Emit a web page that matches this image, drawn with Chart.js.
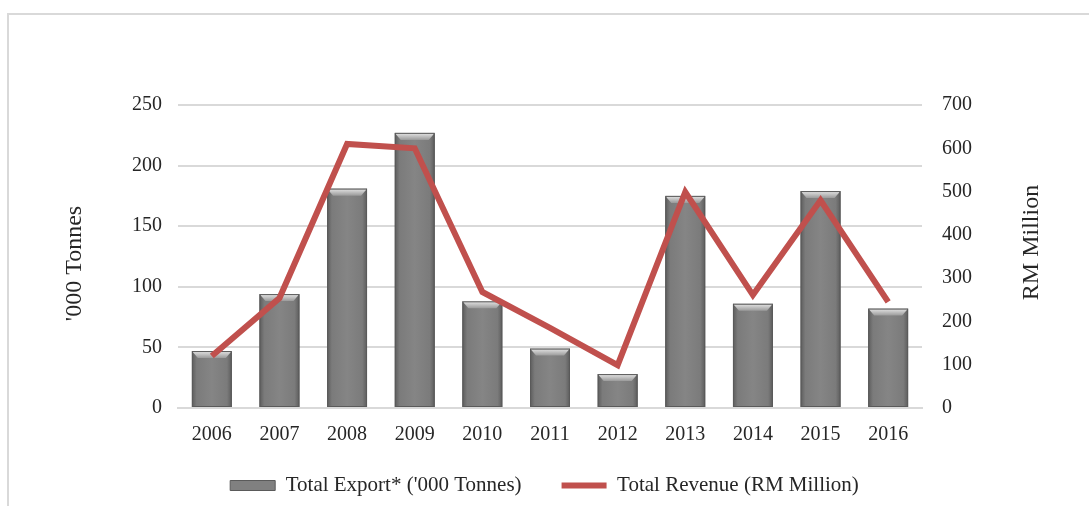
<!DOCTYPE html>
<html lang="en">
<head>
    <meta charset="UTF-8">
    <title>Export and Revenue</title>
    <script src="https://cdn.jsdelivr.net/npm/chart.js"></script>
    <style>
        body { margin: 0; background: #fff; overflow: hidden; }
        #frame {
            position: absolute; left: 7px; top: 13px;
            width: 1200px; height: 600px;
            border: 2px solid #d9d9d9;
        }
        #myChart { position: absolute; left: 0; top: 0; }
    </style>
</head>
<body>
    <div id="frame"></div>
    <canvas id="myChart" width="1089" height="506"></canvas>

    <script>
        const years = ['2006', '2007', '2008', '2009', '2010', '2011', '2012', '2013', '2014', '2015', '2016'];
        const exportTonnes = [47, 94, 181, 227, 88, 49, 28, 175, 86, 179, 82];   // '000 tonnes
        const revenueRM = [120, 254, 610, 600, 268, 185, 99, 499, 261, 480, 245]; // RM million

        const leftTicks = { min: 0, max: 250, step: 50 };
        const rightTicks = { min: 0, max: 700, step: 100 };

        const serif = "'Liberation Serif', 'Times New Roman', serif";
        const textColor = '#262626';
        const gridColor = '#d9d9d9';
        const red = '#c0504d';

        // shaded bars with a bevelled top edge
        const bevelBars = {
            id: 'bevelBars',
            afterDatasetDraw(chart, args) {
                if (args.meta.type !== 'bar') return;
                const ctx = chart.ctx;
                ctx.save();
                args.meta.data.forEach(bar => {
                    const left = bar.x - bar.width / 2;
                    const right = bar.x + bar.width / 2;
                    const top = bar.y;
                    const bottom = bar.base;

                    const g = ctx.createLinearGradient(left, 0, right, 0);
                    g.addColorStop(0, '#5c5c5c');
                    g.addColorStop(0.12, '#7b7b7b');
                    g.addColorStop(0.5, '#858585');
                    g.addColorStop(0.88, '#7b7b7b');
                    g.addColorStop(1, '#5c5c5c');
                    ctx.fillStyle = g;
                    ctx.fillRect(left, top, right - left, bottom - top);

                    const b = Math.min(7, (bottom - top) / 2);
                    const tg = ctx.createLinearGradient(0, top, 0, top + b);
                    tg.addColorStop(0, '#e6e6e6');
                    tg.addColorStop(1, '#9a9a9a');
                    ctx.fillStyle = tg;
                    ctx.beginPath();
                    ctx.moveTo(left, top);
                    ctx.lineTo(right, top);
                    ctx.lineTo(right - 6, top + b);
                    ctx.lineTo(left + 6, top + b);
                    ctx.closePath();
                    ctx.fill();

                    ctx.strokeStyle = '#5a5a5a';
                    ctx.lineWidth = 1;
                    ctx.strokeRect(left + 0.5, top + 0.5, right - left - 1, bottom - top - 1);
                });
                ctx.restore();
            }
        };

        // both axis titles read bottom-to-top
        const axisTitles = {
            id: 'axisTitles',
            afterDraw(chart) {
                const ctx = chart.ctx;
                const area = chart.chartArea;
                const midY = (area.top + area.bottom) / 2;
                ctx.save();
                ctx.font = '24px ' + serif;
                ctx.fillStyle = textColor;
                ctx.textAlign = 'center';
                ctx.textBaseline = 'middle';
                [["'000 Tonnes", 75, midY + 7], ['RM Million', 1032, midY - 14]].forEach(([t, x, y]) => {
                    ctx.save();
                    ctx.translate(x, y);
                    ctx.rotate(-Math.PI / 2);
                    ctx.fillText(t, 0, 0);
                    ctx.restore();
                });
                ctx.restore();
            }
        };

        // x box is kept short so the legend sits close; let its labels draw past it
        const xLabelRoom = {
            id: 'xLabelRoom',
            afterLayout(chart) {
                chart.scales.x.bottom += 25;
            }
        };

        const ctx = document.getElementById('myChart').getContext('2d');
        new Chart(ctx, {
            data: {
                labels: years,
                datasets: [{
                    type: 'line',
                    label: 'Total Revenue (RM Million)',
                    data: revenueRM,
                    yAxisID: 'y1',
                    borderColor: red,
                    backgroundColor: red,
                    borderWidth: 6,
                    borderJoinStyle: 'miter',
                    pointRadius: 0,
                    pointStyle: 'line',
                    tension: 0,
                    order: 0
                }, {
                    type: 'bar',
                    label: "Total Export* ('000 Tonnes)",
                    data: exportTonnes,
                    yAxisID: 'y',
                    backgroundColor: '#808080',
                    borderColor: '#5a5a5a',
                    borderWidth: 1,
                    pointStyle: 'rect',
                    barPercentage: 0.59,
                    categoryPercentage: 1,
                    order: 1
                }]
            },
            options: {
                responsive: false,
                animation: false,
                layout: { padding: { top: 105, left: 0, right: 0, bottom: 0 } },
                plugins: {
                    tooltip: { enabled: false },
                    legend: {
                        position: 'bottom',
                        reverse: true,
                        labels: {
                            usePointStyle: true,
                            pointStyleWidth: 45,
                            boxHeight: 10,
                            padding: 40,
                            color: textColor,
                            font: { family: serif, size: 21 }
                        }
                    }
                },
                scales: {
                    x: {
                        grid: { display: false },
                        border: { display: true, color: gridColor, width: 2 },
                        ticks: { color: textColor, padding: 7, font: { family: serif, size: 20 } },
                        afterFit: s => { s.height = 27; }
                    },
                    y: {
                        position: 'left',
                        min: leftTicks.min,
                        max: leftTicks.max,
                        grid: { color: gridColor, lineWidth: 2, drawTicks: false },
                        border: { display: false },
                        ticks: { stepSize: leftTicks.step, color: textColor, padding: 16, font: { family: serif, size: 20 } },
                        afterFit: s => { s.width = 178; }
                    },
                    y1: {
                        position: 'right',
                        min: rightTicks.min,
                        max: rightTicks.max,
                        grid: { drawOnChartArea: false, drawTicks: false },
                        border: { display: false },
                        ticks: { stepSize: rightTicks.step, color: textColor, padding: 20, font: { family: serif, size: 20 } },
                        afterFit: s => { s.width = 167; }
                    }
                }
            },
            plugins: [bevelBars, axisTitles, xLabelRoom]
        });
    </script>
</body>
</html>
